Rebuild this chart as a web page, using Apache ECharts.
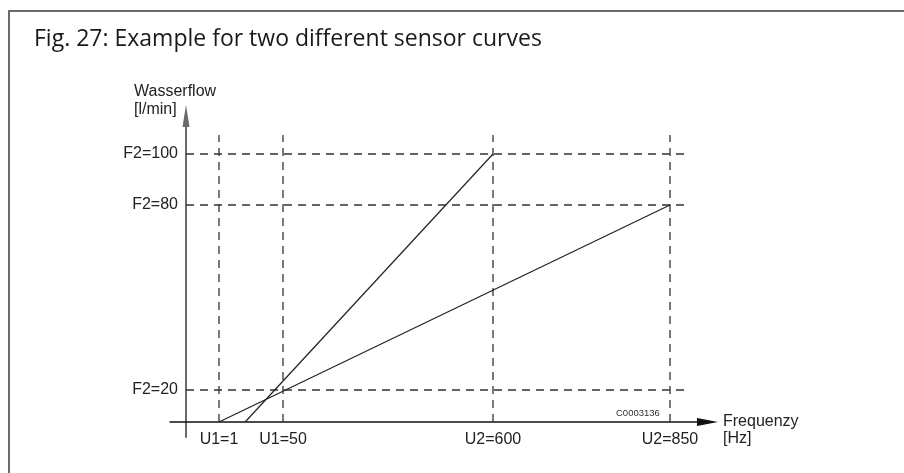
<!DOCTYPE html>
<html>
<head>
<meta charset="utf-8">
<style>
html,body{margin:0;padding:0;background:#fff;}
#chart{width:904px;height:473px;}
</style>
<script src="https://cdn.jsdelivr.net/npm/echarts@6/dist/echarts.min.js"></script>
</head>
<body>
<div id="chart"></div>
<script>
// ---------------- data ----------------
const figureTitle = 'Fig. 27: Example for two different sensor curves';
const freqTicks = [1, 50, 600, 850];                       // Frequenzy [Hz]
const freqTickLabels = ['U1=1', 'U1=50', 'U2=600', 'U2=850'];
const flowTicks = [20, 80, 100];                           // Wasserflow [l/min]
const flowTickLabels = ['F2=20', 'F2=80', 'F2=100'];
const curveOne = [[1, 0], [850, 80]];                      // sensor curve 1: [Hz, l/min]
const curveTwo = [[21, 0], [600, 100]];                    // sensor curve 2: [Hz, l/min]
const xAxisName = 'Frequenzy\n[Hz]';
const yAxisName = 'Wasserflow\n[l/min]';
const drawingCode = 'C0003136';

// ---------------- schematic (not-to-scale) axis layout ----------------
// The original drawing is a sketch: each labelled value has its own place on the axis.
// Stops: [value, place on the axis in drawing units]; values between stops are placed linearly.
const X_STOPS = [[0, 0], [1, 33], [50, 97], [600, 307], [850, 484]];
const Y_STOPS = [[0, 0], [20, 32], [80, 217], [100, 268]];
const X_RANGE = [-16, 521.5];
const Y_RANGE = [-15, 306];
const V_GUIDE_TOP = 287;     // dashed verticals run up to here
const H_GUIDE_END = 504;     // dashed horizontals run out to here

function place(stops, v) {
  let i = 1;
  while (i < stops.length - 1 && v > stops[i][0]) i++;
  const [v0, p0] = stops[i - 1], [v1, p1] = stops[i];
  return p0 + (v - v0) * (p1 - p0) / (v1 - v0);
}
const sx = v => place(X_STOPS, v);
const sy = v => place(Y_STOPS, v);
const toDrawing = pts => pts.map(([x, y]) => [sx(x), sy(y)]);

const xLabelAt = {}; freqTicks.forEach((v, i) => { xLabelAt[sx(v).toFixed(3)] = freqTickLabels[i]; });
const yLabelAt = {}; flowTicks.forEach((v, i) => { yLabelAt[sy(v).toFixed(3)] = flowTickLabels[i]; });

const dashStyle = { color: '#333', width: 1.3, type: [8, 6] };
const series = [];
freqTicks.forEach(v => {
  series.push({ type: 'line', silent: true, symbol: 'none', animation: false,
    lineStyle: dashStyle, data: [[sx(v), 0], [sx(v), V_GUIDE_TOP]] });
});
flowTicks.forEach(v => {
  series.push({ type: 'line', silent: true, symbol: 'none', animation: false,
    lineStyle: dashStyle, data: [[0, sy(v)], [H_GUIDE_END, sy(v)]] });
});
[curveOne, curveTwo].forEach(c => {
  series.push({ type: 'line', silent: true, symbol: 'none', animation: false,
    lineStyle: { color: '#222', width: 1.2 }, data: toDrawing(c) });
});

const LABEL_FONT = '"Liberation Sans", Arial, Helvetica, sans-serif';

const chart = echarts.init(document.getElementById('chart'), null, { renderer: 'canvas' });
chart.setOption({
  animation: false,
  backgroundColor: '#fff',
  grid: { left: 170, right: 196.5, top: 116, bottom: 36 },
  xAxis: {
    type: 'value', min: X_RANGE[0], max: X_RANGE[1],
    axisLine: { onZero: true, lineStyle: { color: '#111', width: 1.5 },
      symbol: ['none', 'triangle'], symbolSize: [8, 21] },
    axisTick: { show: false },
    splitLine: { show: false },
    axisLabel: {
      customValues: freqTicks.map(sx),
      formatter: v => xLabelAt[Number(v).toFixed(3)] || '',
      margin: -5, color: '#222', fontSize: 16, lineHeight: 16, fontFamily: LABEL_FONT
    }
  },
  yAxis: {
    type: 'value', min: Y_RANGE[0], max: Y_RANGE[1],
    axisLine: { onZero: true, lineStyle: { color: '#6a6a6a', width: 2 },
      symbol: ['none', 'triangle'], symbolSize: [7, 22] },
    axisTick: { show: false },
    splitLine: { show: false },
    axisLabel: {
      customValues: flowTicks.map(sy),
      formatter: v => yLabelAt[Number(v).toFixed(3)] || '',
      margin: -8, color: '#222', fontSize: 16, lineHeight: 16, fontFamily: LABEL_FONT
    }
  },
  series: series,
  graphic: [
    { type: 'line', silent: true, shape: { x1: 8, y1: 11, x2: 904, y2: 11 },
      style: { stroke: '#6b6b6b', lineWidth: 2 } },
    { type: 'line', silent: true, shape: { x1: 9, y1: 10, x2: 9, y2: 473 },
      style: { stroke: '#6b6b6b', lineWidth: 2 } },
    { type: 'text', silent: true, left: 34, top: 28,
      style: { text: figureTitle, fill: '#1a1a1a', font: '23px "Open Sans", "Noto Sans", sans-serif' } },
    { type: 'text', silent: true, left: 134, top: 83,
      style: { text: yAxisName, fill: '#222', font: '16px ' + LABEL_FONT, lineHeight: 18 } },
    { type: 'text', silent: true, left: 723, top: 413,
      style: { text: xAxisName, fill: '#222', font: '16px ' + LABEL_FONT, lineHeight: 17 } },
    { type: 'text', silent: true, left: 616, top: 408,
      style: { text: drawingCode, fill: '#333', font: '9.5px ' + LABEL_FONT } }
  ]
});
</script>
</body>
</html>
